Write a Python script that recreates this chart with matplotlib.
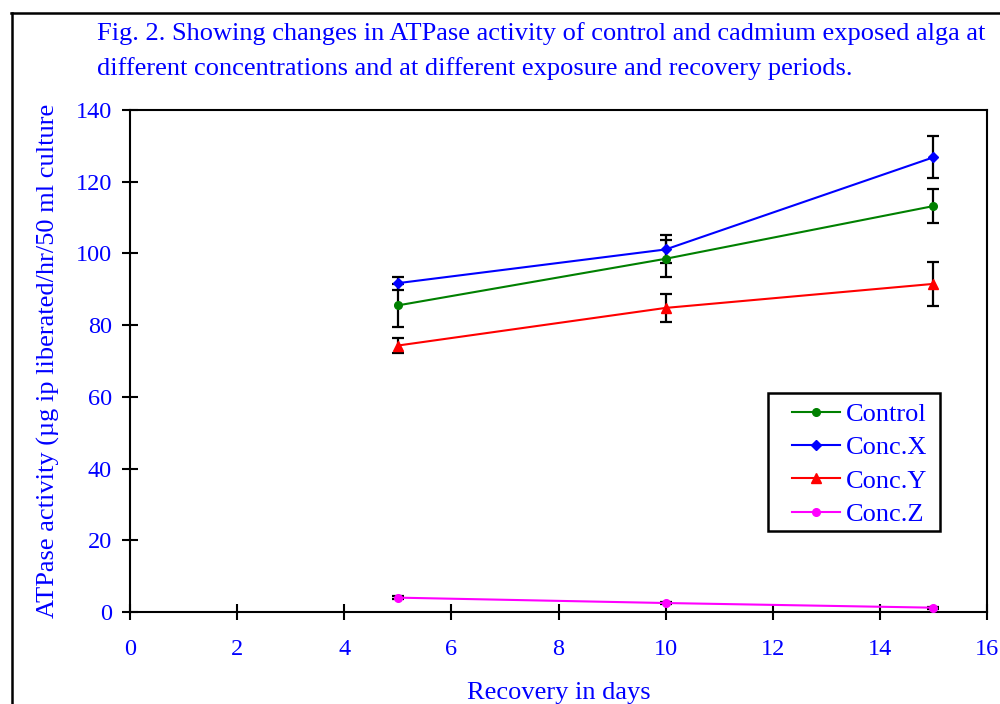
import matplotlib
matplotlib.use("Agg")
import matplotlib.pyplot as plt
from matplotlib.lines import Line2D
from matplotlib.patches import Rectangle

days = [5, 10, 15]
control = [85.5, 98.5, 113.2]
control_err = [6.0, 5.2, 4.8]
conc_x = [91.7, 101.1, 126.8]
conc_x_err = [1.8, 3.9, 5.9]
conc_y = [74.3, 84.8, 91.5]
conc_y_err = [2.1, 3.9, 6.1]
conc_z = [4.0, 2.5, 1.2]
conc_z_err = [0.5, 0.4, 0.3]

labels = ["Control", "Conc.X", "Conc.Y", "Conc.Z"]
xticks = [0, 2, 4, 6, 8, 10, 12, 14, 16]
yticks = [0, 20, 40, 60, 80, 100, 120, 140]

BLUE = "#0000FF"
plt.rcParams['font.family'] = ['Liberation Serif', 'DejaVu Serif']

fig = plt.figure(figsize=(10, 7.04), dpi=100)
ax = fig.add_axes([0.13, 0.1307, 0.857, 0.7131])

series = [
    (control, control_err, "#008000", "o", 5.5),
    (conc_x, conc_x_err, "#0000FF", "D", 5.5),
    (conc_y, conc_y_err, "#FF0000", "^", 7),
    (conc_z, conc_z_err, "#FF00FF", "o", 5.5),
]
handles = []
for (vals, errs, col, mk, ms), lab in zip(series, labels):
    ax.errorbar(days, vals, yerr=errs, fmt="none", ecolor="black",
                elinewidth=1.6, capsize=4.5, capthick=1.6, zorder=2)
    h, = ax.plot(days, vals, color=col, marker=mk, markersize=ms,
                 linewidth=1.5, label=lab, zorder=3)
    handles.append(h)

ax.set_xlim(0, 16)
ax.set_ylim(0, 140)
ax.set_xticks(xticks)
ax.set_yticks(yticks)
ax.tick_params(axis='both', direction='inout', length=11, width=1.5,
               color='black', labelcolor=BLUE, labelsize=17.5)
ax.tick_params(axis='y', pad=7.5)
ax.tick_params(axis='x', pad=14)
for s in ax.spines.values():
    s.set_linewidth(1.5)
    s.set_color('black')

ax.set_xlabel("Recovery in days", color=BLUE, fontsize=19, labelpad=16)
ax.set_ylabel("ATPase activity (µg ip liberated/hr/50 ml culture", color=BLUE,
              fontsize=19, labelpad=11)

# legend frame
ax.add_patch(Rectangle((0.7445, 0.1614), 0.2007, 0.2749, transform=ax.transAxes,
                       facecolor='white', edgecolor='black', linewidth=1.8,
                       zorder=4, clip_on=False))
leg = ax.legend(handles=handles, loc='upper left',
                bbox_to_anchor=(0.7725, 0.417), borderaxespad=0,
                fontsize=19, frameon=False, handlelength=1.8,
                handletextpad=0.25, borderpad=0, labelspacing=0.37,
                labelcolor=BLUE)
leg.set_zorder(5)

fig.text(0.097, 0.943, "Fig. 2. Showing changes in ATPase activity of control and cadmium exposed alga at",
         color=BLUE, fontsize=19, ha='left', va='baseline')
fig.text(0.097, 0.893, "different concentrations and at different exposure and recovery periods.",
         color=BLUE, fontsize=19, ha='left', va='baseline')

fig.add_artist(Line2D([0.012, 0.012], [0, 0.982], transform=fig.transFigure,
                      color='black', linewidth=1.8))
fig.add_artist(Line2D([0.011, 1.0], [0.982, 0.982], transform=fig.transFigure,
                      color='black', linewidth=1.8))

fig.savefig("out.png", dpi=100)
